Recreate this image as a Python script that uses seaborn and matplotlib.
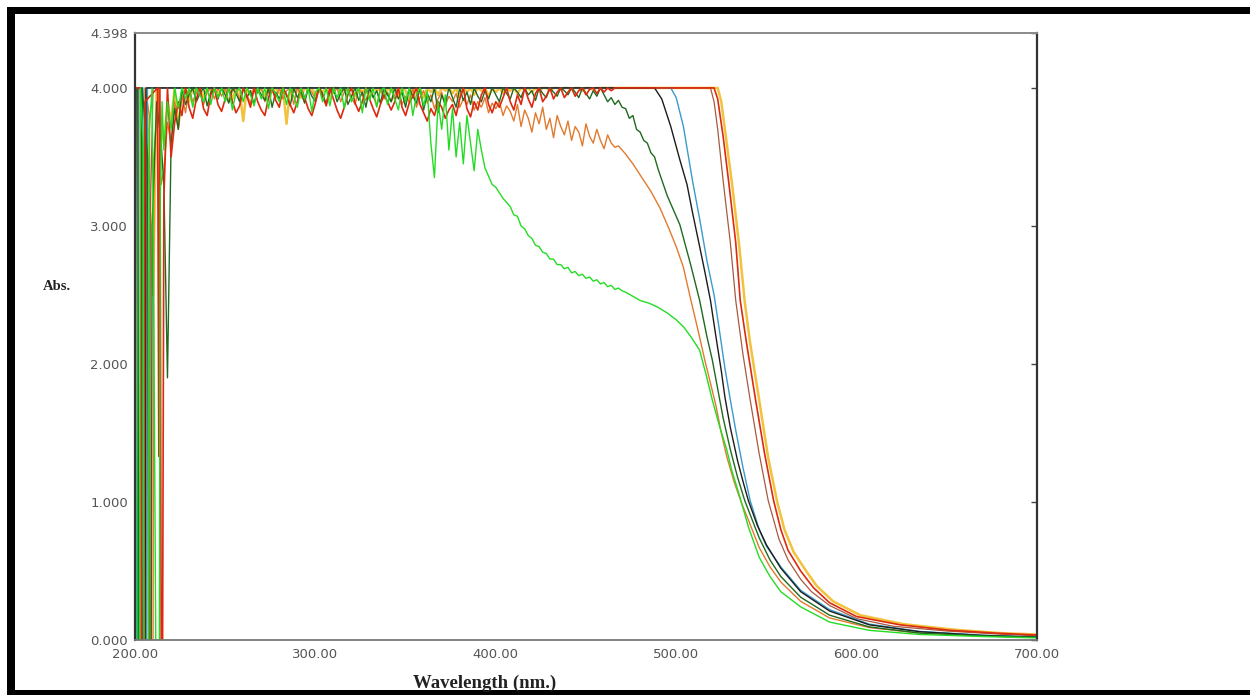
import numpy as np
import pandas as pd
import matplotlib
matplotlib.use("Agg")
import matplotlib.pyplot as plt
from matplotlib.patches import Rectangle
import seaborn as sns

# ---------------------------------------------------------------------------
# UV-Vis absorbance spectra (Abs. vs wavelength, nm). The detector saturates
# at 4.000, so the plateau region is clipped noise.
# ---------------------------------------------------------------------------

# shared 2-nm sampling of the noisy saturated region (216 ... 470 nm)
grid_nm = np.arange(216, 472, 2)

# --- bright green sample ---
lime_head_nm = [200.3, 200.8, 202.5, 203, 204.5, 205, 207.5, 208, 209.5, 210.5, 211.5, 213.5, 214, 215]
lime_head_abs = [3.0, 0, 0, 4.0, 3.6, 0, 0, 3.7, 4.0, 2.2, 0, 0, 3.2, 3.9]
lime_grid_abs = [
    3.55, 3.9, 3.7, 4.0, 3.85, 4.0, 3.92, 4.0, 3.86, 4.0, 3.95, 3.9, 4.0, 3.88, 4.0, 3.93,
    4.0, 3.9, 4.0, 3.84, 3.97, 4.0, 3.9, 4.0, 3.95, 3.87, 4.0, 3.92, 4.0, 3.85, 4.0, 3.96,
    3.9, 4.0, 3.88, 4.0, 3.94, 3.86, 4.0, 3.92, 4.0, 3.83, 3.97, 4.0, 3.9, 4.0, 3.87, 4.0,
    3.93, 4.0, 3.85, 4.0, 3.9, 3.96, 4.0, 3.82, 4.0, 3.91, 4.0, 3.86, 3.98, 4.0, 3.88, 4.0,
    3.92, 3.84, 4.0, 3.9, 4.0, 3.8, 3.95, 4.0, 3.87, 3.98, 3.6, 3.35, 3.9, 3.7, 3.95, 3.55,
    3.85, 3.5, 3.75, 3.45, 3.8, 3.6, 3.4, 3.7, 3.55, 3.42, 3.36, 3.3, 3.28, 3.24, 3.2, 3.17,
    3.14, 3.08, 3.07, 3.0, 2.98, 2.93, 2.91, 2.86, 2.85, 2.81, 2.8, 2.76, 2.76, 2.72, 2.72, 2.69,
    2.7, 2.66, 2.67, 2.64, 2.65, 2.62, 2.63, 2.6, 2.61, 2.58, 2.59, 2.56, 2.57, 2.54, 2.55, 2.53,
]
lime_tail_nm = [472, 476, 480, 485, 490, 495, 500, 504, 508, 513, 517, 520, 524, 528, 531, 535,
                540, 546, 552, 558, 569, 585, 607, 635, 670, 700]
lime_tail_abs = [2.52, 2.49, 2.46, 2.44, 2.41, 2.37, 2.32, 2.27, 2.2, 2.1, 1.9, 1.74, 1.55, 1.38, 1.22, 1.05,
                 0.82, 0.6, 0.46, 0.35, 0.24, 0.13, 0.07, 0.04, 0.025, 0.015]

# --- orange sample ---
orange_head_nm = [200, 200.5, 205, 205.5, 208, 208.5, 210, 210.5, 213, 214.5]
orange_head_abs = [2.85, 0, 0, 4.0, 3.8, 0, 0, 3.5, 4.0, 3.3]
orange_grid_abs = [
    3.4, 3.75, 3.6, 3.9, 3.7, 3.95, 3.82, 4.0, 3.9, 3.96, 4.0, 3.88, 3.97, 4.0, 3.92, 4.0,
    3.94, 4.0, 3.9, 3.98, 4.0, 3.91, 4.0, 3.95, 3.89, 4.0, 3.96, 4.0, 3.9, 3.97, 4.0, 3.93,
    4.0, 3.92, 3.98, 4.0, 3.88, 4.0, 3.95, 3.9, 4.0, 3.97, 3.92, 4.0, 3.94, 3.89, 4.0, 3.96,
    4.0, 3.9, 3.97, 4.0, 3.93, 3.88, 4.0, 3.95, 3.91, 4.0, 3.94, 3.87, 4.0, 3.92, 3.97, 3.9,
    3.95, 4.0, 3.88, 3.94, 3.9, 4.0, 3.86, 3.93, 3.98, 3.89, 3.95, 3.85, 3.92, 3.97, 3.87, 3.94,
    3.9, 3.96, 3.86, 3.92, 3.88, 3.95, 3.84, 3.9, 3.86, 3.93, 3.82, 3.89, 3.85, 3.9, 3.8, 3.87,
    3.83, 3.76, 3.88, 3.72, 3.84, 3.78, 3.68, 3.82, 3.74, 3.86, 3.7, 3.78, 3.64, 3.8, 3.72, 3.66,
    3.76, 3.62, 3.72, 3.68, 3.58, 3.74, 3.65, 3.6, 3.7, 3.62, 3.56, 3.66, 3.6, 3.57, 3.58, 3.55,
]
orange_tail_nm = [472, 476, 480, 486, 491, 496, 500, 504, 508, 512, 516, 519, 522, 525, 528, 532, 536,
                  540, 546, 552, 558, 569, 585, 607, 635, 670, 700]
orange_tail_abs = [3.52, 3.45, 3.37, 3.25, 3.13, 2.98, 2.85, 2.7, 2.47, 2.25, 2.02, 1.86, 1.7, 1.5, 1.33, 1.15, 1.0,
                   0.87, 0.67, 0.53, 0.42, 0.28, 0.16, 0.09, 0.05, 0.03, 0.02]

# --- dark green sample ---
dkgreen_head_nm = [200, 200.4, 201.5, 202, 203.5, 204, 207, 207.5, 209, 209.5, 212, 214.5]
dkgreen_head_abs = [3.8, 4.0, 4.0, 0, 0, 4.0, 3.5, 0, 0, 3.0, 3.9, 3.6]
dkgreen_grid_abs = [
    3.3, 1.9, 3.6, 3.85, 3.7, 4.0, 3.88, 3.95, 4.0, 3.9, 3.96, 4.0, 3.87, 3.97, 4.0, 3.92,
    4.0, 3.95, 3.89, 4.0, 3.96, 3.9, 4.0, 3.93, 3.98, 3.88, 4.0, 3.95, 3.91, 4.0, 3.86, 3.97,
    3.92, 4.0, 3.95, 3.87, 4.0, 3.93, 3.98, 3.89, 4.0, 3.94, 3.9, 4.0, 3.96, 3.88, 3.97, 4.0,
    3.9, 3.96, 4.0, 3.88, 3.94, 4.0, 3.91, 3.97, 3.86, 4.0, 3.93, 3.98, 3.89, 4.0, 3.95, 3.9,
    4.0, 3.92, 3.97, 3.86, 4.0, 3.94, 3.89, 4.0, 3.84, 3.96, 3.9, 4.0, 3.82, 3.95, 3.88, 4.0,
    3.93, 3.86, 4.0, 3.91, 3.97, 3.88, 4.0, 3.94, 3.9, 3.98, 3.92, 4.0, 3.95, 3.9, 4.0, 3.96,
    3.92, 4.0, 3.97, 3.93, 4.0, 3.95, 3.98, 3.91, 4.0, 3.96, 3.93, 4.0, 3.97, 3.94, 4.0, 3.98,
    3.95, 4.0, 3.97, 3.93, 4.0, 3.96, 3.92, 3.98, 3.94, 4.0, 3.95, 3.9, 3.93, 3.88, 3.91, 3.86,
]
dkgreen_tail_nm = [472, 474, 476, 478, 480, 482, 484, 486, 488, 490, 495, 502, 508, 513, 517, 520, 523, 526,
                   530, 534, 538, 543, 546, 552, 558, 569, 585, 607, 635, 670, 700]
dkgreen_tail_abs = [3.85, 3.78, 3.8, 3.7, 3.68, 3.62, 3.6, 3.53, 3.5, 3.41, 3.22, 3.01, 2.72, 2.46, 2.2, 2.03, 1.82, 1.61,
                    1.38, 1.18, 1.01, 0.84, 0.74, 0.58, 0.46, 0.31, 0.18, 0.095, 0.05, 0.03, 0.02]

# --- red sample ---
red_head_nm = [200, 203, 203.5, 205, 205.5, 212.5, 213.2, 213.8, 214.5, 215.3]
red_head_abs = [4.0, 4.0, 0, 0, 3.9, 4.0, 1.33, 4.0, 0.0, 0.0]
red_grid_abs = [
    3.2, 4.0, 3.5, 3.75, 3.9, 3.8, 4.0, 3.86, 3.78, 3.92, 4.0, 3.85, 3.8, 3.95, 4.0, 3.88,
    3.83, 3.92, 4.0, 3.9, 3.82, 3.87, 4.0, 3.94, 3.86, 4.0, 3.9, 3.84, 3.8, 3.93, 4.0, 3.91,
    3.86, 4.0, 3.95, 3.88, 3.82, 3.9, 4.0, 3.93, 3.85, 3.8, 3.89, 4.0, 3.94, 3.87, 4.0, 3.92,
    3.84, 3.78, 3.86, 3.95, 4.0, 3.89, 3.83, 3.9, 4.0, 3.92, 3.85, 3.79, 3.88, 3.95, 3.9, 3.84,
    3.9, 4.0, 3.86, 3.8, 3.89, 3.94, 4.0, 3.88, 3.82, 3.76, 3.85, 3.8, 3.9, 3.86, 3.78, 3.84,
    3.88, 3.8, 3.92, 4.0, 3.85, 3.79, 3.9, 3.84, 3.95, 4.0, 3.88, 3.82, 3.9, 3.86, 3.93, 4.0,
    3.9, 3.84, 3.95, 3.88, 4.0, 3.92, 3.86, 3.96, 4.0, 3.9, 3.94, 4.0, 3.92, 3.97, 4.0, 3.93,
    3.97, 4.0, 3.94, 3.98, 4.0, 3.95, 3.99, 4.0, 3.96, 4.0, 3.97, 4.0, 3.98, 4.0, 4.0, 4.0,
]
red_tail_nm = [472, 490, 521, 523, 526, 529, 533, 535.5, 539, 544, 549, 554, 558, 562, 569, 576, 585,
               600, 624, 652, 680, 700]
red_tail_abs = [4.0, 4.0, 4.0, 3.92, 3.65, 3.33, 2.88, 2.46, 2.15, 1.74, 1.35, 1.01, 0.8, 0.65, 0.5, 0.38, 0.27,
                0.17, 0.11, 0.07, 0.048, 0.036]

# --- yellow sample ---
yellow_head_nm = [200, 200.6, 206, 206.5, 210, 212]
yellow_head_abs = [3.0, 0, 0, 3.9, 2.5, 4.0]
yellow_grid_abs = [
    3.6, 3.9, 3.75, 4.0, 3.72, 3.95, 4.0, 3.9, 4.0, 3.97, 4.0, 3.93, 4.0, 3.98, 4.0, 3.95,
    4.0, 3.97, 4.0, 3.92, 4.0, 3.98, 3.76, 4.0, 3.95, 4.0, 3.98, 4.0, 3.94, 4.0, 3.97, 4.0,
    3.96, 4.0, 3.74, 4.0, 3.97, 4.0, 3.93, 4.0, 3.98, 4.0, 3.95, 4.0, 3.97, 4.0, 3.92, 4.0,
    4.0, 3.96, 4.0, 3.98, 4.0, 3.94, 4.0, 3.97, 4.0, 3.93, 4.0, 3.98, 4.0, 3.95, 4.0, 3.97,
    4.0, 3.94, 4.0, 3.98, 3.9, 4.0, 3.96, 4.0, 3.93, 4.0, 3.97, 4.0, 3.95, 4.0, 3.98, 4.0,
    3.96, 4.0, 3.93, 4.0, 3.97, 4.0, 3.95, 4.0, 3.98, 4.0, 3.94, 4.0, 3.97, 4.0, 3.96, 4.0,
    3.98, 4.0, 3.96, 4.0, 3.99, 4.0, 3.97, 4.0, 3.98, 4.0, 4.0, 3.98, 4.0, 4.0, 3.99, 4.0,
    4.0, 3.99, 4.0, 4.0, 3.98, 4.0, 4.0, 3.99, 4.0, 4.0, 4.0, 4.0, 4.0, 4.0, 4.0, 4.0,
]
yellow_tail_nm = [472, 490, 523, 525, 528, 531, 535, 538, 541, 546, 551, 556, 560, 565, 572, 578, 587,
                  602, 626, 654, 680, 700]
yellow_tail_abs = [4.0, 4.0, 4.0, 3.9, 3.6, 3.3, 2.85, 2.45, 2.15, 1.74, 1.32, 1.0, 0.8, 0.64, 0.5, 0.39, 0.28,
                   0.18, 0.115, 0.075, 0.05, 0.04]

# --- samples with a clean saturated plateau ---
black_head_nm = [200, 200.6, 203.4, 203.9, 205.6, 206.1]
black_head_abs = [0, 4.0, 4.0, 0, 0, 4.0]
black_tail_nm = [488, 492, 497, 502, 506, 509, 513, 516, 519, 522, 525, 527, 530, 534, 537, 540,
                 545, 550, 558, 569, 585, 607, 635, 670, 700]
black_tail_abs = [4.0, 3.92, 3.72, 3.48, 3.3, 3.1, 2.85, 2.66, 2.46, 2.2, 1.95, 1.76, 1.54, 1.3, 1.15, 1.01,
                  0.83, 0.69, 0.52, 0.35, 0.21, 0.11, 0.06, 0.033, 0.02]

blue_head_nm = [200, 201.4, 201.9, 204.4, 204.9, 206.4, 206.9]
blue_head_abs = [0, 0, 4.0, 4.0, 0, 0, 4.0]
blue_tail_nm = [497, 500, 504, 509, 513, 517, 521, 524, 527, 530, 533, 537, 541, 546, 550, 558,
                569, 585, 607, 635, 670, 700]
blue_tail_abs = [4.0, 3.93, 3.72, 3.33, 3.05, 2.75, 2.5, 2.24, 1.97, 1.74, 1.52, 1.25, 1.01, 0.8, 0.68, 0.53,
                 0.36, 0.22, 0.115, 0.062, 0.035, 0.022]

brown_head_nm = [200, 208, 208.5, 210]
brown_head_abs = [0, 0, 3.1, 4.0]
brown_tail_nm = [519, 521, 523, 526, 530, 533, 537, 541, 546, 551, 557, 562, 569, 575, 585, 600,
                 620, 650, 680, 700]
brown_tail_abs = [4.0, 3.9, 3.7, 3.33, 2.88, 2.46, 2.07, 1.74, 1.35, 1.01, 0.73, 0.58, 0.44, 0.35, 0.25, 0.155,
                  0.1, 0.065, 0.042, 0.03]

x_ticks = [200, 300, 400, 500, 600, 700]
x_tick_labels = ["200.00", "300.00", "400.00", "500.00", "600.00", "700.00"]
y_ticks = [0, 1, 2, 3, 4, 4.398]
y_tick_labels = ["0.000", "1.000", "2.000", "3.000", "4.000", "4.398"]


def spectrum(head_nm, head_abs, tail_nm, tail_abs, grid_abs=None):
    nm = list(head_nm)
    ab = list(head_abs)
    if grid_abs is not None:
        assert len(grid_abs) == len(grid_nm)
        nm += list(grid_nm)
        ab += list(grid_abs)
    nm += list(tail_nm)
    ab += list(tail_abs)
    return pd.DataFrame({"nm": nm, "abs": ab})


# drawing order: first entry is at the back
series = [
    ("yellow", spectrum(yellow_head_nm, yellow_head_abs, yellow_tail_nm, yellow_tail_abs, yellow_grid_abs), "#f2c23c", 1.8),
    ("orange", spectrum(orange_head_nm, orange_head_abs, orange_tail_nm, orange_tail_abs, orange_grid_abs), "#e27a2e", 1.0),
    ("brown", spectrum(brown_head_nm, brown_head_abs, brown_tail_nm, brown_tail_abs), "#a85a40", 0.9),
    ("blue", spectrum(blue_head_nm, blue_head_abs, blue_tail_nm, blue_tail_abs), "#3a9bcb", 1.0),
    ("black", spectrum(black_head_nm, black_head_abs, black_tail_nm, black_tail_abs), "#1c1c1c", 1.0),
    ("dkgreen", spectrum(dkgreen_head_nm, dkgreen_head_abs, dkgreen_tail_nm, dkgreen_tail_abs, dkgreen_grid_abs), "#1f6a1f", 1.0),
    ("red", spectrum(red_head_nm, red_head_abs, red_tail_nm, red_tail_abs, red_grid_abs), "#dc2a10", 1.2),
    ("lime", spectrum(lime_head_nm, lime_head_abs, lime_tail_nm, lime_tail_abs, lime_grid_abs), "#24dc24", 1.0),
]

sns.set_theme(style="white")
plt.rcParams["font.family"] = ["DejaVu Sans"]

fig = plt.figure(figsize=(12.5, 6.95), dpi=100)
fig.patch.set_facecolor("white")
ax = fig.add_axes([135 / 1250, 1 - 640 / 695, (1037 - 135) / 1250, (640 - 33) / 695])

for name, df, col, lw in series:
    sns.lineplot(data=df, x="nm", y="abs", ax=ax, color=col, linewidth=lw,
                 estimator=None, sort=False, legend=False)

ax.set_xlim(200, 700)
ax.set_ylim(0, 4.398)
ax.set_xticks(x_ticks)
ax.set_xticklabels(x_tick_labels)
ax.set_yticks(y_ticks)
ax.set_yticklabels(y_tick_labels)
ax.set_xlabel("")
ax.set_ylabel("")

ax.tick_params(axis="both", direction="in", length=4, width=1, colors="#444444",
               labelsize=9.5, labelcolor="#555555")
ax.tick_params(axis="x", pad=6)
ax.tick_params(axis="y", pad=5, right=True)
ax.tick_params(axis="x", top=False)

for side, col, lw in [("left", "#333333", 1.6), ("right", "#333333", 1.6),
                      ("top", "#8a8a8a", 1.4), ("bottom", "#777777", 1.3)]:
    ax.spines[side].set_visible(True)
    ax.spines[side].set_color(col)
    ax.spines[side].set_linewidth(lw)

fig.text(57 / 1250, 1 - 287 / 695, "Abs.", ha="center", va="center",
         family="Liberation Serif", weight="bold", fontsize=10.5, color="#222222")
fig.text(485 / 1250, 1 - 683 / 695, "Wavelength (nm.)", ha="center", va="center",
         family="Liberation Serif", weight="bold", fontsize=13.5, color="#222222")

# black frame around the figure (top, left, bottom)
for (x0, y0, w, h) in [(7, 7, 1243, 7), (7, 7, 8, 688), (7, 690, 1243, 5)]:
    fig.add_artist(Rectangle((x0 / 1250, 1 - (y0 + h) / 695), w / 1250, h / 695,
                             transform=fig.transFigure, facecolor="black", edgecolor="none"))

fig.savefig("out.png", dpi=100, facecolor="white")
